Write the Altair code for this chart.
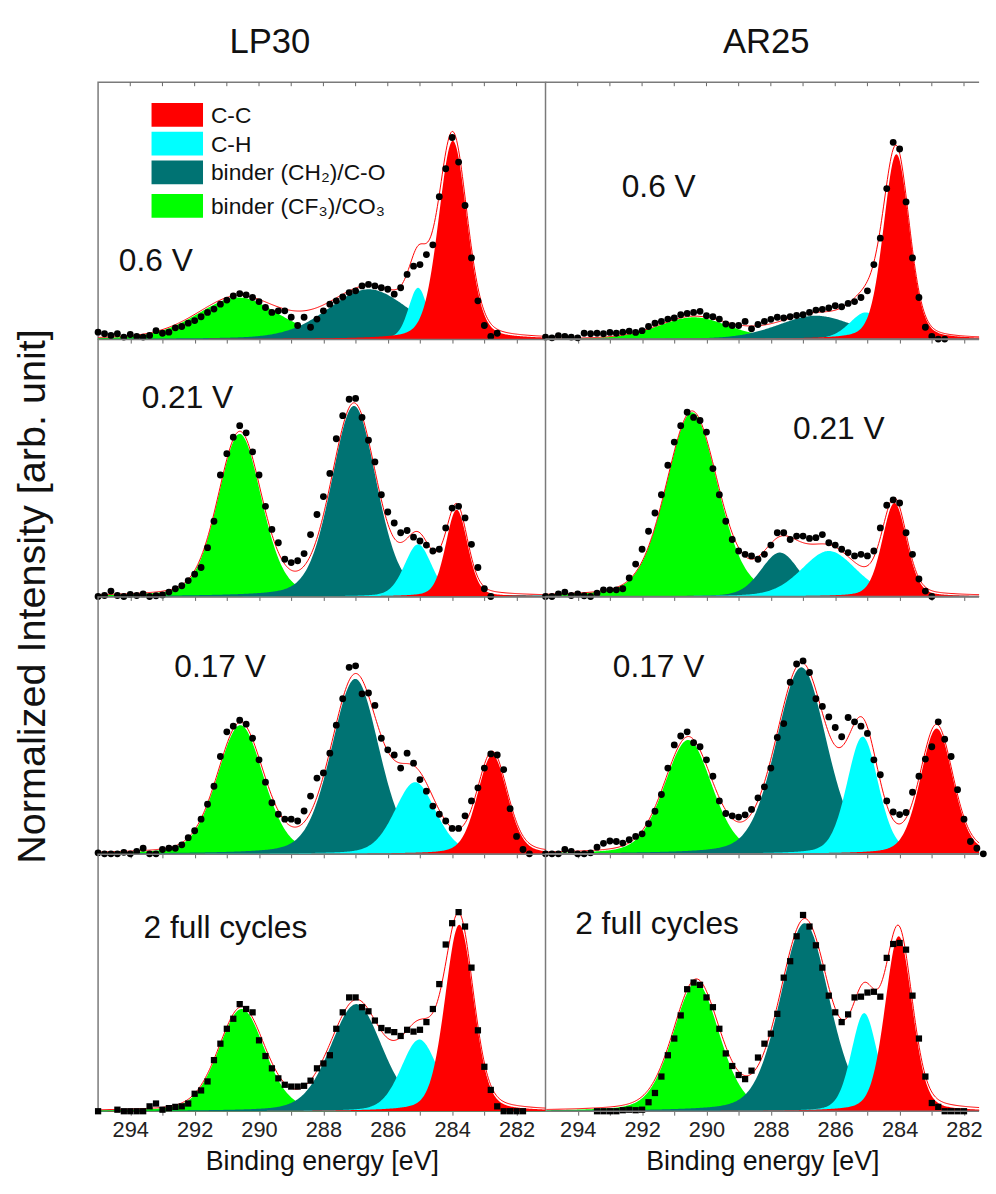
import numpy as np
import pandas as pd
import altair as alt

FONT = "Liberation Sans"

# ---------------- text / categories ----------------
column_titles = ["LP30", "AR25"]
y_title = "Normalized Intensity [arb. unit]"
x_title = "Binding energy [eV]"
component_names = ["C-C", "C-H", "binder (CH\u2082)/C-O", "binder (CF\u2083)/CO\u2083"]
component_colors = ["#ff0000", "#00ffff", "#007373", "#00ff00"]
tick_energies = list(range(282, 295))

# measured points: first point at 295.0 eV, one every 0.2 eV towards lower energy
dot_start = 295.0
dot_step = 0.2

# ---------------- LP30 ----------------
lp30_06_label = "0.6 V"
lp30_06_dots = [2.7, 2.1, 1.4, 2.1, 0.8, 1.8, 1.0, 0.8, 1.4, 3.3,
                2.3, 2.7, 4.4, 4.9, 6.2, 7.2, 8.7, 10.4, 11.7, 13.6,
                15.2, 16.8, 17.7, 17.2, 16.2, 14.6, 12.3, 10.4, 11.0, 11.0,
                8.5, 5.3, 8.5, 4.6, 7.8, 11.0, 13.6, 14.9, 16.4, 18.1,
                18.8, 20.7, 21.3, 20.7, 20.0, 19.4, 17.5, 20.0, 25.2, 28.4,
                29.0, 32.9, 36.7, 55.4, 66.3, 78.5, 68.9, 52.0, 31.6, 14.9,
                5.3, 1.0, 2.3]
# fitted components, order: C-C, C-H, binder(CH2)/C-O, binder(CF3)/CO3
lp30_06_center = [283.98, 285.06, 286.60, 290.65]
lp30_06_height = [77.2, 20.0, 19.4, 16.2]
lp30_06_fwhm = [1.05, 0.70, 3.0, 3.0]

lp30_021_label = "0.21 V"
lp30_021_dots = [0, 0.4, 2.1, 0.4, 0, 0.8, 0.4, 1.0, 0, 0.3,
                 0.6, 1.7, 3.0, 4.2, 6.2, 8.7, 11.3, 19.0, 29.3, 47.3,
                 55.6, 62.0, 66.5, 63.7, 56.3, 47.3, 35.1, 26.1, 20.9, 14.5,
                 13.2, 13.9, 16.7, 24.1, 31.9, 38.9, 47.9, 61.4, 70.4, 76.8,
                 77.1, 69.7, 60.8, 52.4, 39.6, 32.9, 28.6, 24.8, 25.7, 23.1,
                 21.6, 20.0, 17.7, 18.4, 26.7, 34.4, 35.1, 30.6, 20.3, 11.3,
                 3.0, 0]
lp30_021_center = [283.86, 285.06, 287.05, 290.60]
lp30_021_height = [33.8, 20.3, 74.2, 63.3]
lp30_021_fwhm = [0.80, 1.0, 1.65, 1.6]

lp30_017_label = "0.17 V"
lp30_017_dots = [0.4, 0, 0, 0, 0.6, 0, 0.9, 2.2, 0, 0,
                 1.7, 2.2, 2.2, 3.5, 6.3, 9.0, 13.5, 19.3, 26.3, 37.9,
                 47.5, 49.7, 52.0, 50.5, 45.0, 36.6, 27.9, 19.9, 15.4, 13.5,
                 13.5, 12.8, 16.7, 22.5, 29.5, 31.5, 39.2, 50.1, 60.4, 72.6,
                 73.2, 62.3, 62.6, 57.8, 45.0, 40.5, 38.5, 33.4, 39.2, 35.3,
                 28.9, 24.4, 18.6, 15.4, 12.8, 9.9, 9.9, 14.8, 20.6, 25.7,
                 33.4, 38.9, 38.5, 32.8, 17.6, 6.8, 1.7, 0]
lp30_017_center = [282.75, 285.15, 287.01, 290.58]
lp30_017_height = [38.5, 27.9, 68.1, 50.1]
lp30_017_fwhm = [1.10, 1.5, 1.75, 1.7]

lp30_2fc_label = "2 full cycles"
lp30_2fc_dots = [0, None, None, 0.6, 0, 0, 0, 0, 1.9, 3.0,
                 0.6, 1.2, 1.7, 1.9, 3.0, 6.8, 8.1, 11.6, 19.9, 26.3,
                 32.1, 36.0, 41.7, 39.8, 38.5, 27.6, 21.5, 16.7, 12.8, 10.3,
                 9.6, 9.6, 9.9, 11.9, 16.7, 18.6, 21.8, 32.1, 38.5, 44.3,
                 44.3, 40.5, 38.9, 35.3, 32.4, 31.5, 30.8, 29.3, 31.7, 31.0,
                 31.7, 34.7, 39.8, 49.5, 64.9, 73.2, 77.5, 71.9, 55.9, 31.5,
                 17.3, 8.3, 1.9, 0, 0, 0, 0]
lp30_2fc_center = [283.78, 285.02, 286.98, 290.54]
lp30_2fc_height = [72.6, 27.9, 41.7, 39.8]
lp30_2fc_fwhm = [1.05, 1.35, 1.9, 1.7]

# ---------------- AR25 ----------------
ar25_06_label = "0.6 V"
ar25_06_dots = [0.8, 0.5, 1.3, 1.0, 0.8, 0.5, 2.3, 2.1, 2.3, 2.1,
                2.6, 2.3, 2.7, 3.1, 2.6, 3.3, 4.9, 6.2, 6.9, 7.8,
                8.2, 9.5, 10.0, 10.4, 10.8, 9.1, 8.7, 7.8, 5.9, 5.3,
                5.3, 6.9, 4.0, 5.7, 6.9, 7.7, 8.5, 8.2, 8.7, 9.2,
                9.5, 10.4, 11.3, 11.6, 12.1, 13.0, 12.6, 13.9, 14.6, 16.2,
                18.8, 29.0, 39.3, 58.6, 76.6, 74.0, 53.4, 31.6, 16.2, 4.6,
                1.0, 0, 0]
ar25_06_center = [284.10, 285.05, 286.60, 290.40]
ar25_06_height = [72.0, 10.4, 9.1, 8.5]
ar25_06_fwhm = [0.95, 1.2, 2.8, 2.6]

ar25_021_label = "0.21 V"
ar25_021_dots = [0, 0, 1.0, 1.7, 0.4, 1.0, 0.3, 0, 1.3, 2.6,
                 2.6, 2.6, 3.0, 7.2, 12.6, 18.4, 25.4, 32.5, 39.6, 51.1,
                 60.1, 66.5, 71.7, 69.7, 68.5, 64.0, 49.8, 39.6, 29.3, 22.2,
                 17.7, 16.4, 15.8, 14.5, 16.4, 20.0, 24.8, 24.8, 22.2, 23.5,
                 23.5, 22.6, 22.9, 24.1, 20.9, 20.0, 18.4, 17.1, 15.8, 16.4,
                 15.8, 17.7, 26.7, 35.5, 37.6, 36.4, 24.8, 16.4, 6.8, 2.1,
                 0]
ar25_021_center = [284.16, 286.20, 287.72, 290.45]
ar25_021_height = [36.4, 17.7, 17.1, 71.7]
ar25_021_fwhm = [0.90, 2.0, 1.4, 1.9]

ar25_017_label = "0.17 V"
ar25_017_dots = [0, 0, 0, 1.7, 0.9, 0, 0, 0.4, 2.6, 4.1,
                 5.0, 4.8, 4.2, 5.5, 6.8, 7.8, 11.7, 16.6, 23.1, 33.4,
                 42.4, 45.9, 47.5, 43.3, 41.7, 36.6, 30.2, 20.6, 15.7, 14.8,
                 14.3, 15.2, 17.3, 21.8, 26.1, 33.4, 45.3, 50.7, 66.8, 73.9,
                 75.1, 70.6, 60.4, 57.4, 53.3, 49.2, 45.6, 53.1, 51.4, 49.7,
                 46.9, 36.6, 30.8, 20.6, 16.3, 15.3, 16.1, 24.0, 30.2, 36.9,
                 41.7, 51.4, 44.6, 37.9, 25.0, 13.5, 4.8, 2.2, 0]
ar25_017_center = [282.85, 285.15, 287.05, 290.57]
ar25_017_height = [48.8, 45.6, 72.6, 44.3]
ar25_017_fwhm = [1.20, 1.15, 1.85, 1.75]

ar25_2fc_label = "2 full cycles"
ar25_2fc_dots = [None, None, None, None, None, None, None, None,
                 0, 0, 0, 0, 0.4, 0.6, 0.4, 0.6, 3.5, 7.1,
                 13.5, 21.8, 28.3, 37.3, 47.5, 50.1, 49.2, 44.3, 40.5, 32.1,
                 22.5, 17.6, 14.1, 12.5, 15.8, 20.9, 26.3, 30.2, 37.9, 52.0,
                 58.4, 68.1, 76.4, 71.9, 64.6, 55.9, 45.0, 38.5, 34.7, 37.7,
                 44.3, 44.6, 46.2, 46.5, 44.6, 59.7, 65.1, 65.5, 62.9, 45.0,
                 28.3, 13.5, 3.2, 1.7, 0, 0, 0, 0]
ar25_2fc_center = [284.03, 285.10, 286.95, 290.32]
ar25_2fc_height = [68.1, 38.2, 73.2, 50.1]
ar25_2fc_fwhm = [1.0, 0.95, 1.8, 1.7]

# ---------------- layout constants ----------------
E_HIGH = 295.0
PX_PER_EV = 32.52
LEFT_LOW = 281.1
LEFT_W = round((E_HIGH - LEFT_LOW) * PX_PER_EV, 1)
RIGHT_W = 438.0                      # the right column is cut by the figure edge
RIGHT_LOW = E_HIGH - RIGHT_W / PX_PER_EV
PANEL_H = 259.5
MARGIN_LEFT = 89.5     # room for the y title, left of the first panel
MARGIN_TOP = 67        # room for the column titles, above the first row
LORENTZ_FRACTION = 0.25
BORDER = "#7a7a7a"


def pseudo_voigt(e, center, height, fwhm):
    sigma = fwhm / 2.3548
    g = np.exp(-0.5 * ((e - center) / sigma) ** 2)
    lor = 1.0 / (1.0 + ((e - center) / (fwhm / 2.0)) ** 2)
    return height * ((1 - LORENTZ_FRACTION) * g + LORENTZ_FRACTION * lor)


def text_layer(txt, x, y, size, align="center", baseline="alphabetic", angle=0):
    kw = dict(font=FONT, fontSize=size, align=align, baseline=baseline, color="#111111")
    if angle:
        kw["angle"] = angle
    return alt.Chart(pd.DataFrame({"t": [txt]})).mark_text(**kw).encode(
        x=alt.value(x), y=alt.value(y), text="t:N"
    )


def spectrum_panel(label, dots, centers, heights, fwhms, col, row, label_xy, shape, extras=()):
    low = LEFT_LOW if col == 0 else RIGHT_LOW
    width = LEFT_W if col == 0 else RIGHT_W
    grid = np.round(np.arange(low, E_HIGH + 1e-9, 0.03), 3)

    xscale = alt.Scale(domain=[low, E_HIGH], reverse=True, nice=False, zero=False)
    yscale = alt.Scale(domain=[0, 100], nice=False, zero=False)
    common_axis = dict(values=tick_energies, tickSize=4, tickColor="#666666", tickWidth=1,
                       domain=False, grid=False)
    if row == 3:
        axis = alt.Axis(labelExpr="datum.value % 2 === 0 ? datum.label : ''",
                        labelFontSize=22, labelFont=FONT, labelColor="#222222",
                        labelPadding=5, labelOverlap=False, labelFlush=False,
                        title=x_title, titleFontSize=27, titleFont=FONT,
                        titleFontWeight="normal", titleColor="#111111", titlePadding=8,
                        **common_axis)
    else:
        axis = alt.Axis(labels=False, title=None, **common_axis)
    X = alt.X("E:Q", scale=xscale, axis=axis)
    Y = alt.Y("I:Q", scale=yscale, axis=None)

    layers = []
    envelope = np.zeros_like(grid)
    comp_curves = []
    for k in range(4):
        curve = pseudo_voigt(grid, centers[k], heights[k], fwhms[k])
        comp_curves.append(curve)
        envelope = envelope + curve
    # draw order: binder CF3 (green), binder CH2 (teal), C-H (cyan), C-C (red)
    for k in [3, 2, 1, 0]:
        df = pd.DataFrame({"E": grid, "I": comp_curves[k]})
        layers.append(alt.Chart(df).mark_area(color=component_colors[k]).encode(x=X, y=Y))

    env_df = pd.DataFrame({"E": grid, "I": envelope})
    layers.append(alt.Chart(env_df).mark_line(color="#ff0000", strokeWidth=1).encode(x=X, y=Y))

    energies = [round(dot_start - dot_step * i, 2) for i in range(len(dots))]
    dot_df = pd.DataFrame({"E": energies, "I": dots}).dropna()
    layers.append(
        alt.Chart(dot_df).mark_point(filled=True, color="black", opacity=1,
                                     size=48 if shape == "circle" else 40,
                                     shape=shape, strokeWidth=0).encode(x=X, y=Y)
    )

    layers.append(text_layer(label, label_xy[0], label_xy[1], 32, align="left"))

    if row == 0:
        tick_df = pd.DataFrame({"E": tick_energies})
        layers.append(
            alt.Chart(tick_df).mark_rule(color="#666666", strokeWidth=1)
            .encode(x=X, y=alt.value(0), y2=alt.value(4))
        )

    if col == 1:
        # right column: frame only on top and bottom (the figure edge cuts its right side)
        frame_df = pd.DataFrame({"f": [0]})
        for yy in (0, PANEL_H):
            layers.append(
                alt.Chart(frame_df).mark_rule(color=BORDER, strokeWidth=1.5)
                .encode(x=alt.value(0), x2=alt.value(width), y=alt.value(yy))
            )

    if row == 0 and col == 0:
        legend_tops = [21, 50, 79, 113]
        for k in range(4):
            ldf = pd.DataFrame({"name": [component_names[k]]})
            top = legend_tops[k]
            layers.append(
                alt.Chart(ldf).mark_rect(color=component_colors[k])
                .encode(x=alt.value(54), x2=alt.value(106), y=alt.value(top), y2=alt.value(top + 24))
            )
            layers.append(text_layer(component_names[k], 114, top + 13, 23,
                                     align="left", baseline="middle"))

    layers.extend(extras)
    props = dict(width=width, height=PANEL_H)
    if col == 1:
        props["view"] = alt.ViewBackground(stroke="transparent")
    return alt.layer(*layers).properties(**props)


# invisible anchor that fixes the top-left corner of the whole figure
anchor = alt.Chart(pd.DataFrame({"a": [0]})).mark_point(size=1, opacity=0).encode(
    x=alt.value(-MARGIN_LEFT), y=alt.value(-MARGIN_TOP)
)

extras_a = [anchor, text_layer(column_titles[0], 173.5, -30, 35)]
extras_b = [text_layer(column_titles[1], 223, -30, 35)]
extras_c = [text_layer(y_title, -65.5, PANEL_H, 40, baseline="middle", angle=270)]

panel_specs = [
    # (label, dots, center, height, fwhm, col, row, label position, marker, extras)
    (lp30_06_label, lp30_06_dots, lp30_06_center, lp30_06_height, lp30_06_fwhm, 0, 0, (21, 191), "circle", extras_a),
    (ar25_06_label, ar25_06_dots, ar25_06_center, ar25_06_height, ar25_06_fwhm, 1, 0, (77, 116), "circle", extras_b),
    (lp30_021_label, lp30_021_dots, lp30_021_center, lp30_021_height, lp30_021_fwhm, 0, 1, (44, 69), "circle", extras_c),
    (ar25_021_label, ar25_021_dots, ar25_021_center, ar25_021_height, ar25_021_fwhm, 1, 1, (250, 100), "circle", ()),
    (lp30_017_label, lp30_017_dots, lp30_017_center, lp30_017_height, lp30_017_fwhm, 0, 2, (77, 81), "circle", ()),
    (ar25_017_label, ar25_017_dots, ar25_017_center, ar25_017_height, ar25_017_fwhm, 1, 2, (68, 81), "circle", ()),
    (lp30_2fc_label, lp30_2fc_dots, lp30_2fc_center, lp30_2fc_height, lp30_2fc_fwhm, 0, 3, (46, 85), "square", ()),
    (ar25_2fc_label, ar25_2fc_dots, ar25_2fc_center, ar25_2fc_height, ar25_2fc_fwhm, 1, 3, (30, 80), "square", ()),
]

panels = [spectrum_panel(*spec) for spec in panel_specs]

chart = (
    alt.concat(*panels, columns=2, spacing=0, bounds="flush")
    .resolve_scale(x="independent", y="independent")
    .properties(padding=0, background="white")
    .configure_view(stroke=BORDER, strokeWidth=1.5)
)

chart.save("out.html", embed_options={"renderer": "svg", "actions": False})
